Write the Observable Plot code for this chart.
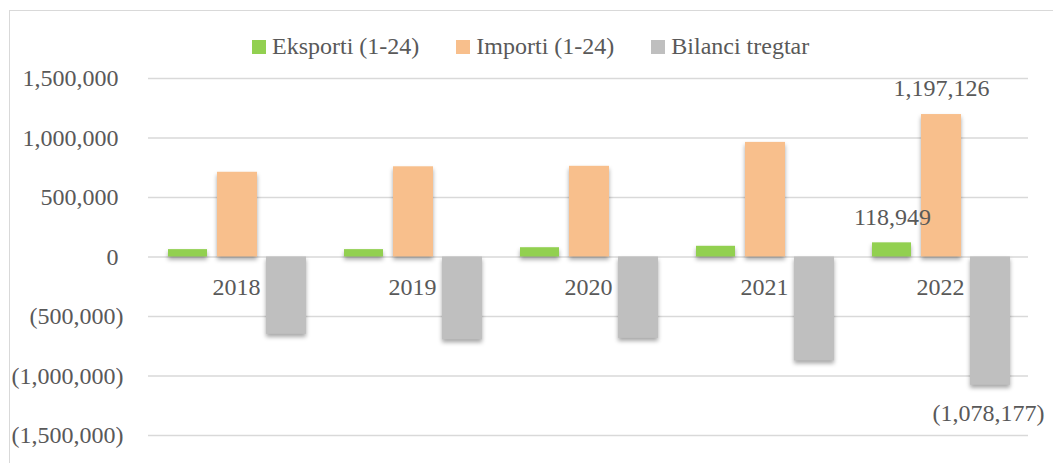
<!DOCTYPE html>
<html>
<head>
<meta charset="utf-8">
<script src="https://cdn.jsdelivr.net/npm/d3@7"></script>
<script src="https://cdn.jsdelivr.net/npm/@observablehq/plot@0.6"></script>
<style>
  html, body { margin: 0; padding: 0; background: #fff; }
  #wrap { position: relative; width: 1053px; height: 463px; overflow: hidden; font-family: "Liberation Serif", serif; }
  #frame { position: absolute; left: 9px; top: 10px; width: 1200px; height: 600px; border-top: 1.5px solid #d9d9d9; border-left: 1.5px solid #d9d9d9; }
  #legend { position: absolute; left: 252px; top: 33px; display: flex; align-items: center; font-size: 24px; color: #595959; white-space: nowrap; }
  #legend .item { display: flex; align-items: center; margin-right: 37px; }
  #legend .sw { width: 14px; height: 14px; margin-right: 6px; }
  #chart { position: absolute; left: 0; top: 0; }
</style>
</head>
<body>
<div id="wrap">
  <div id="frame"></div>
  <div id="chart"></div>
  <div id="legend"></div>
</div>
<script>
const years = ["2018", "2019", "2020", "2021", "2022"];
const exportsVals = [62000, 62000, 78000, 90000, 118949];
const importsVals = [712000, 758000, 762000, 963000, 1197126];
const balanceVals = [-650000, -696000, -684000, -873000, -1078177];
const seriesNames = ["Eksporti (1-24)", "Importi (1-24)", "Bilanci tregtar"];
const seriesColors = ["#92d050", "#f8bf8c", "#bfbfbf"];
const yTicks = [-1500000, -1000000, -500000, 0, 500000, 1000000, 1500000];
const labelYear = "2022";

const fmt = v => v < 0 ? "(" + d3.format(",")(-v) + ")" : d3.format(",")(v);

const rowsE = years.map((y, i) => ({year: y, value: exportsVals[i]}));
const rowsI = years.map((y, i) => ({year: y, value: importsVals[i]}));
const rowsB = years.map((y, i) => ({year: y, value: balanceVals[i]}));

const textColor = "#595959";

const chart = Plot.plot({
  width: 1053,
  height: 463,
  marginLeft: 148,
  marginRight: 25,
  marginTop: 78,
  marginBottom: 28,
  style: {fontFamily: "Liberation Serif, serif", fontSize: "24px", color: textColor, background: "transparent", overflow: "visible"},
  x: {domain: years, padding: 0, axis: null},
  y: {domain: [-1500000, 1500000], axis: null},
  marks: [
    Plot.gridY({ticks: yTicks, stroke: "#d9d9d9", strokeOpacity: 1, strokeWidth: 1.5}),
    Plot.axisY({ticks: yTicks.filter(d => d >= 0), label: null, tickSize: 0, tickPadding: 30, tickFormat: fmt, fill: textColor, fontSize: 24}),
    Plot.axisY({ticks: yTicks.filter(d => d < 0), label: null, tickSize: 0, tickPadding: 25, tickFormat: fmt, fill: textColor, fontSize: 24}),
    Plot.barY(rowsE, {x: "year", y: "value", fill: seriesColors[0], insetLeft: 20, insetRight: 117}),
    Plot.barY(rowsI, {x: "year", y: "value", fill: seriesColors[1], insetLeft: 69, insetRight: 67}),
    Plot.barY(rowsB, {x: "year", y: "value", fill: seriesColors[2], insetLeft: 118, insetRight: 18}),
    Plot.text(years, {x: d => d, y: () => 0, text: d => d, dy: 30, fill: textColor, fontSize: 24}),
    Plot.text(rowsE.filter(d => d.year === labelYear), {x: "year", y: "value", text: d => fmt(d.value), dx: -48, dy: -26, fill: textColor, fontSize: 24}),
    Plot.text(rowsI.filter(d => d.year === labelYear), {x: "year", y: "value", text: d => fmt(d.value), dx: 1, dy: -26, fill: textColor, fontSize: 24}),
    Plot.text(rowsB.filter(d => d.year === labelYear), {x: "year", y: "value", text: d => fmt(d.value), dx: 48, dy: 28, fill: textColor, fontSize: 24})
  ]
});

chart.querySelectorAll('g[aria-label="bar"]').forEach(g => {
  g.style.filter = "drop-shadow(0px 3px 2px rgba(0,0,0,0.35))";
});

document.getElementById("chart").appendChild(chart);

const legend = document.getElementById("legend");
seriesNames.forEach((name, i) => {
  const item = document.createElement("div");
  item.className = "item";
  const sw = document.createElement("div");
  sw.className = "sw";
  sw.style.background = seriesColors[i];
  const lbl = document.createElement("span");
  lbl.textContent = name;
  item.appendChild(sw);
  item.appendChild(lbl);
  legend.appendChild(item);
});
</script>
</body>
</html>
